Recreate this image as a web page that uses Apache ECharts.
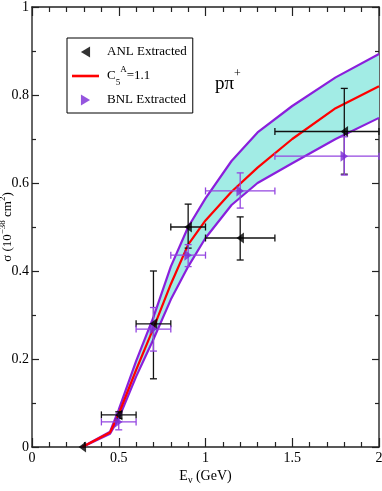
<!DOCTYPE html>
<html>
<head>
<meta charset="utf-8">
<script src="https://cdn.jsdelivr.net/npm/echarts@6/dist/echarts.min.js"></script>
<style>html,body{margin:0;padding:0;background:#fff}#main{width:382px;height:491px}</style>
</head>
<body>
<div id="main"></div>
<script>
/* model curve, C5A = 1.1, with its band */
var curveE     = [0.29, 0.45, 0.5, 0.6, 0.7, 0.8, 0.9, 1.0, 1.15, 1.3, 1.5, 1.75, 2.0];
var curveUpper = [0, 0.035, 0.085, 0.195, 0.295, 0.41, 0.50, 0.565, 0.65, 0.715, 0.775, 0.84, 0.893];
var curveMid   = [0, 0.033, 0.075, 0.175, 0.27, 0.37, 0.46, 0.515, 0.58, 0.635, 0.70, 0.77, 0.82];
var curveLower = [0, 0.03, 0.065, 0.16, 0.245, 0.335, 0.41, 0.475, 0.55, 0.60, 0.645, 0.70, 0.748];

/* ANL extracted: E, sigma, E range, sigma range */
var anlE     = [0.29, 0.5, 0.7, 0.9, 1.2, 1.8];
var anlSigma = [0, 0.073, 0.28, 0.50, 0.475, 0.717];
var anlElo   = [0.29, 0.4, 0.6, 0.8, 1.0, 1.4];
var anlEhi   = [0.29, 0.6, 0.8, 1.0, 1.4, 2.0];
var anlSlo   = [0, 0.065, 0.155, 0.452, 0.425, 0.62];
var anlShi   = [0, 0.08, 0.40, 0.552, 0.523, 0.815];

/* BNL extracted */
var bnlE     = [0.5, 0.7, 0.9, 1.2, 1.8];
var bnlSigma = [0.057, 0.268, 0.436, 0.582, 0.661];
var bnlElo   = [0.4, 0.6, 0.8, 1.0, 1.4];
var bnlEhi   = [0.6, 0.8, 1.0, 1.4, 2.0];
var bnlSlo   = [0.039, 0.218, 0.41, 0.543, 0.618];
var bnlShi   = [0.075, 0.317, 0.46, 0.623, 0.705];

var xTickLabels = ['0', '0.5', '1', '1.5', '2'];
var yTickLabels = ['0', '0.2', '0.4', '0.6', '0.8', '1'];

var FONT = '"Liberation Serif", "Times New Roman", serif';
var PURPLE = '#8a1fdc';
var leftTri = 'path://M10,0 L0,6 L10,12 Z';
var rightTri = 'path://M0,0 L10,6 L0,12 Z';
var lineIcon = 'path://M0,0 L27,0 L27,2.6 L0,2.6 Z';

function pairs(xs, ys) {
    var out = [];
    for (var i = 0; i < xs.length; i++) out.push([xs[i], ys[i]]);
    return out;
}
function rows(xs, ys, xl, xh, yl, yh) {
    var out = [];
    for (var i = 0; i < xs.length; i++) out.push([xs[i], ys[i], xl[i], xh[i], yl[i], yh[i]]);
    return out;
}

//青色带：上界正向 + 下界反向
function bandRender(params, api) {
    var pts = [];
    for (var i = 0; i < curveE.length; i++) pts.push(api.coord([curveE[i], curveUpper[i]]));
    for (var j = curveE.length - 1; j >= 0; j--) pts.push(api.coord([curveE[j], curveLower[j]]));
    return {type: 'polygon', shape: {points: pts}, style: {fill: '#a2ece5'}, silent: true};
}

//误差棒
function errRender(color) {
    return function (params, api) {
        var x = api.value(0), y = api.value(1);
        var l = api.coord([api.value(2), y]), r = api.coord([api.value(3), y]);
        var lo = api.coord([x, api.value(4)]), hi = api.coord([x, api.value(5)]);
        var c = 3.5;
        var st = {stroke: color, lineWidth: 1.3};
        var kids = [];
        if (r[0] - l[0] > 1) {
            kids.push({type: 'line', shape: {x1: l[0], y1: l[1], x2: r[0], y2: r[1]}, style: st});
            kids.push({type: 'line', shape: {x1: l[0], y1: l[1] - c, x2: l[0], y2: l[1] + c}, style: st});
            kids.push({type: 'line', shape: {x1: r[0], y1: r[1] - c, x2: r[0], y2: r[1] + c}, style: st});
        }
        if (lo[1] - hi[1] > 1) {
            kids.push({type: 'line', shape: {x1: lo[0], y1: lo[1], x2: hi[0], y2: hi[1]}, style: st});
            kids.push({type: 'line', shape: {x1: lo[0] - c, y1: lo[1], x2: lo[0] + c, y2: lo[1]}, style: st});
            kids.push({type: 'line', shape: {x1: hi[0] - c, y1: hi[1], x2: hi[0] + c, y2: hi[1]}, style: st});
        }
        return {type: 'group', children: kids};
    };
}

function axisX(pos, showLabel) {
    return {
        type: 'value', position: pos, min: 0, max: 2, interval: 0.5,
        axisLine: {onZero: false, lineStyle: {color: '#222', width: 1.5}},
        axisTick: {inside: true, length: 9, lineStyle: {color: '#222', width: 1.2}},
        minorTick: {show: true, splitNumber: 5, length: 5, lineStyle: {color: '#222', width: 1.2}},
        splitLine: {show: false},
        axisLabel: {show: showLabel, margin: 4, color: '#000', fontFamily: FONT, fontSize: 14,
            formatter: function (v) { return xTickLabels[Math.round(v / 0.5)]; }},
        name: showLabel ? 'E{sub|ν} (GeV)' : '',
        nameLocation: 'middle', nameGap: 20, nameMoveOverlap: false,
        nameTextStyle: {color: '#000', fontFamily: FONT, fontSize: 14,
            rich: {sub: {fontFamily: FONT, fontSize: 10, verticalAlign: 'bottom', padding: [8, 0, 0, 0]}}}
    };
}
function axisY(pos, showLabel) {
    return {
        type: 'value', position: pos, min: 0, max: 1, interval: 0.2,
        axisLine: {onZero: false, lineStyle: {color: '#333', width: 1.5}},
        axisTick: {inside: true, length: 7, lineStyle: {color: '#222', width: 1.2}},
        minorTick: {show: true, splitNumber: 2, length: 4, lineStyle: {color: '#222', width: 1.2}},
        splitLine: {show: false},
        axisLabel: {show: showLabel, margin: 3, color: '#000', fontFamily: FONT, fontSize: 14,
            formatter: function (v) { return yTickLabels[Math.round(v / 0.2)]; }},
        name: showLabel ? '{t|σ (10}{sup|−38}{t| cm}{sup|2}{t|)}' : '',
        nameLocation: 'middle', nameRotate: 90, nameGap: 14, nameMoveOverlap: false,
        nameTextStyle: {color: '#000', fontFamily: FONT, fontSize: 13,
            rich: {
                t: {fontFamily: FONT, fontSize: 13, lineHeight: 20, verticalAlign: 'middle'},
                sup: {fontFamily: FONT, fontSize: 9, lineHeight: 20, verticalAlign: 'top'}
            }}
    };
}

var myChart = echarts.init(document.getElementById('main'));
option = {
    animation: false,
    backgroundColor: '#fff',
    grid: {left: 32, right: 3, top: 7, bottom: 44, containLabel: false, outerBoundsMode: 'none'},
    xAxis: [axisX('bottom', true), axisX('top', false)],
    yAxis: [axisY('left', true), axisY('right', false)],
    legend: {
        orient: 'vertical', left: 67, top: 38,
        padding: [3, 6, 2, 5], itemGap: 2, itemWidth: 27, itemHeight: 11,
        borderColor: '#000', borderWidth: 1, borderRadius: 0, backgroundColor: '#fff',
        data: [
            {name: 'ANL Extracted', icon: leftTri},
            {name: 'C5', icon: lineIcon},
            {name: 'BNL Extracted', icon: rightTri}
        ],
        formatter: function (name) {
            if (name === 'C5') return '{t|C}{sub|5}{sup|A}{t|=1.1}';
            return name;
        },
        textStyle: {color: '#000', fontFamily: FONT, fontSize: 13, lineHeight: 22, padding: [0, 0, 0, 3],
            rich: {
                t: {fontFamily: FONT, fontSize: 13, lineHeight: 22, verticalAlign: 'middle'},
                sub: {fontFamily: FONT, fontSize: 9, lineHeight: 22, verticalAlign: 'bottom'},
                sup: {fontFamily: FONT, fontSize: 9, lineHeight: 22, verticalAlign: 'top'}
            }}
    },
    graphic: [{
        type: 'text', left: 215, top: 68, z: 10,
        style: {
            text: '{a|pπ}{s|+}', fill: '#000',
            rich: {
                a: {fontFamily: FONT, fontSize: 19, lineHeight: 26, verticalAlign: 'bottom'},
                s: {fontFamily: FONT, fontSize: 12, lineHeight: 26, verticalAlign: 'top'}
            }
        }
    }],
    series: [
        {name: 'band', type: 'custom', renderItem: bandRender, silent: true, z: 1,
            data: [[curveE[0], curveLower[0]]]},
        {name: 'upper', type: 'line', data: pairs(curveE, curveUpper), symbol: 'none', z: 2,
            lineStyle: {color: PURPLE, width: 2.2}},
        {name: 'lower', type: 'line', data: pairs(curveE, curveLower), symbol: 'none', z: 2,
            lineStyle: {color: PURPLE, width: 2.2}},
        {name: 'C5', type: 'line', data: pairs(curveE, curveMid), symbol: 'none', z: 2,
            symbolKeepAspect: true, color: '#ff0000', itemStyle: {color: '#ff0000'},
            lineStyle: {color: '#ff0000', width: 2.2}},
        {name: 'anlErr', type: 'custom', renderItem: errRender('#111'), z: 3,
            data: rows(anlE, anlSigma, anlElo, anlEhi, anlSlo, anlShi)},
        {name: 'bnlErr', type: 'custom', renderItem: errRender('#9446e0'), z: 3,
            data: rows(bnlE, bnlSigma, bnlElo, bnlEhi, bnlSlo, bnlShi)},
        {name: 'ANL Extracted', type: 'scatter', data: pairs(anlE, anlSigma), z: 4,
            symbol: leftTri, symbolSize: [9, 11], symbolKeepAspect: true, itemStyle: {color: '#000'}},
        {name: 'BNL Extracted', type: 'scatter', data: pairs(bnlE, bnlSigma), z: 4,
            symbol: rightTri, symbolSize: [9, 11], symbolKeepAspect: true, itemStyle: {color: '#7a2ad6'}}
    ]
};
myChart.setOption(option);
</script>
</body>
</html>
